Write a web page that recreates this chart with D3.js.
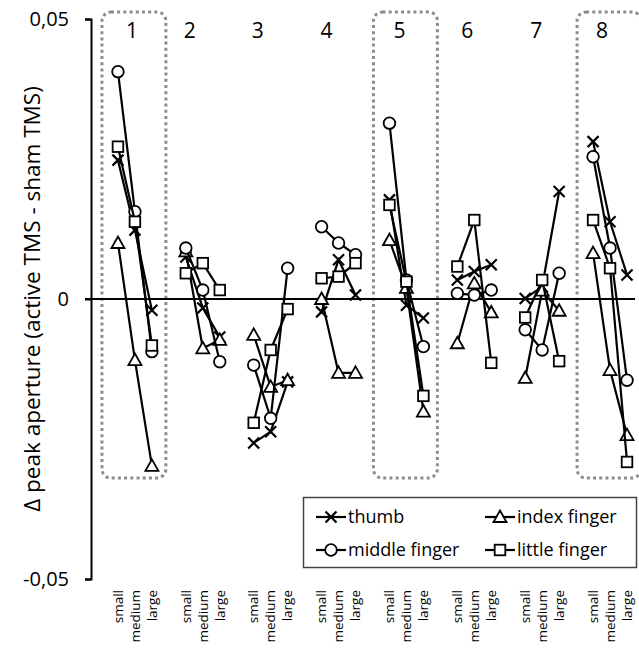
<!DOCTYPE html>
<html>
<head>
<meta charset="utf-8">
<script src="https://cdn.jsdelivr.net/npm/d3@7"></script>
<style>
  body { margin: 0; background: #fff; }
  text { font-family: "Open Sans", sans-serif; fill: #000; }
</style>
</head>
<body>
<div class="chart"></div>
<script>
const WIDTH = 639;
const HEIGHT = 648;

// data
var groups = ['1', '2', '3', '4', '5', '6', '7', '8'];
var sizes = ['small', 'medium', 'large'];
var boxedGroups = ['1', '5', '8'];
var yTicks = [0.05, 0, -0.05];

var thumb = [0.0248, 0.0123, -0.0020, 0.0075, -0.0016, -0.0068, -0.0257, -0.0237, -0.0148,
    -0.0023, 0.0070, 0.0007, 0.0177, -0.0011, -0.0034, 0.0034, 0.0049, 0.0061,
    0.0001, 0.0022, 0.0192, 0.0281, 0.0138, 0.0043];
var indexFinger = [0.0100, -0.0109, -0.0298, 0.0085, -0.0088, -0.0073, -0.0064, -0.0157, -0.0145,
    0.0000, -0.0132, -0.0132, 0.0105, 0.0020, -0.0201, -0.0079, 0.0028, -0.0024,
    -0.0141, 0.0015, -0.0021, 0.0082, -0.0127, -0.0243];
var middleFinger = [0.0406, 0.0156, -0.0094, 0.0091, 0.0016, -0.0112, -0.0118, -0.0213, 0.0055,
    0.0129, 0.0100, 0.0079, 0.0314, 0.0034, -0.0085, 0.0010, 0.0007, 0.0016,
    -0.0055, -0.0091, 0.0046, 0.0254, 0.0091, -0.0145];
var littleFinger = [0.0272, 0.0138, -0.0083, 0.0046, 0.0064, 0.0016, -0.0221, -0.0091, -0.0018,
    0.0037, 0.0040, 0.0064, 0.0168, 0.0031, -0.0173, 0.0058, 0.0141, -0.0114,
    -0.0033, 0.0034, -0.0111, 0.0141, 0.0055, -0.0291];

var series = [
    { name: 'thumb', values: thumb, marker: 'x' },
    { name: 'index finger', values: indexFinger, marker: 'triangle' },
    { name: 'middle finger', values: middleFinger, marker: 'circle' },
    { name: 'little finger', values: littleFinger, marker: 'square' }
];

// group number labels were placed by hand in the original
var numberNudge = [-3, -13, -13, -12, -7, -7, -6, -8];

// one blank slot before each group of three
var slots = d3.range(groups.length * 4);
var xScale = d3.scaleBand().domain(slots).range([92.5, 635.5]).padding(0);
var yScale = d3.scaleLinear().domain([-0.05, 0.05]).range([579, 19]);

function slotOf(g, s) { return 1 + g * 4 + s; }
function cx(g, s) { return xScale(slotOf(g, s)) + xScale.bandwidth() / 2; }

var svg = d3.select('.chart').append('svg')
    .attr('width', WIDTH)
    .attr('height', HEIGHT);

// dotted boxes
boxedGroups.forEach(function (name) {
    var g = groups.indexOf(name);
    svg.append('rect')
        .attr('x', cx(g, 0) - 16)
        .attr('y', 12)
        .attr('width', cx(g, 2) - cx(g, 0) + 30)
        .attr('height', 466)
        .attr('rx', 9)
        .attr('fill', 'none')
        .attr('stroke', '#8c8c8c')
        .attr('stroke-width', 3)
        .attr('stroke-dasharray', '3,3.2');
});

// y axis
var yAxis = d3.axisLeft(yScale)
    .tickValues(yTicks)
    .tickSize(6)
    .tickSizeOuter(6)
    .tickFormat(function (d) {
        return d === 0 ? '0' : (d < 0 ? '-' : '') + d3.format('.2f')(Math.abs(d)).replace('.', ',');
    });

var yAxisG = svg.append('g').attr('transform', 'translate(91,0)').call(yAxis);
yAxisG.select('.domain').attr('stroke', '#000').attr('stroke-width', 2);
yAxisG.selectAll('.tick line').attr('stroke', '#000').attr('stroke-width', 2);
yAxisG.selectAll('.tick text')
    .attr('x', -22)
    .style('font-size', '20px')
    .style('font-family', '"Open Sans", sans-serif');

// zero line
svg.append('line')
    .attr('x1', 85).attr('x2', 635)
    .attr('y1', yScale(0)).attr('y2', yScale(0))
    .attr('stroke', '#000').attr('stroke-width', 2);

// y title
svg.append('text')
    .attr('transform', 'translate(32,' + yScale(0) + ') rotate(-90)')
    .attr('text-anchor', 'middle')
    .attr('dy', '0.35em')
    .style('font-size', '22.5px')
    .text('\u0394 peak aperture (active TMS - sham TMS)');

// group numbers
groups.forEach(function (name, g) {
    svg.append('text')
        .attr('x', cx(g, 1) + numberNudge[g])
        .attr('y', 38)
        .attr('text-anchor', 'middle')
        .style('font-size', '21px')
        .text(name);
});

// category labels
groups.forEach(function (name, g) {
    sizes.forEach(function (size, s) {
        svg.append('text')
            .attr('transform', 'translate(' + cx(g, s) + ',590) rotate(-90)')
            .attr('text-anchor', 'end')
            .attr('dy', '0.35em')
            .style('font-size', '13.5px')
            .text(size);
    });
});

function drawMarker(g, type, x, y) {
    if (type === 'x') {
        var r = 5.5;
        g.append('path')
            .attr('d', 'M' + (x - r) + ',' + (y - r) + 'L' + (x + r) + ',' + (y + r) +
                'M' + (x - r) + ',' + (y + r) + 'L' + (x + r) + ',' + (y - r))
            .attr('stroke', '#000').attr('stroke-width', 2.2).attr('fill', 'none');
    } else if (type === 'circle') {
        g.append('circle').attr('cx', x).attr('cy', y).attr('r', 5.8)
            .attr('fill', '#fff').attr('stroke', '#000').attr('stroke-width', 1.8);
    } else if (type === 'square') {
        g.append('rect').attr('x', x - 5.3).attr('y', y - 5.3).attr('width', 10.6).attr('height', 10.6)
            .attr('fill', '#fff').attr('stroke', '#000').attr('stroke-width', 1.8);
    } else {
        g.append('path')
            .attr('d', 'M' + x + ',' + (y - 6.5) + 'L' + (x + 6.5) + ',' + (y + 5) + 'L' + (x - 6.5) + ',' + (y + 5) + 'Z')
            .attr('fill', '#fff').attr('stroke', '#000').attr('stroke-width', 1.8);
    }
}

var line = d3.line()
    .x(function (d) { return cx(d.g, d.s); })
    .y(function (d) { return yScale(d.v); });

series.forEach(function (ser) {
    var sg = svg.append('g');
    groups.forEach(function (name, g) {
        var pts = sizes.map(function (size, s) {
            return { g: g, s: s, v: ser.values[g * 3 + s] };
        });
        sg.append('path')
            .attr('d', line(pts))
            .attr('fill', 'none')
            .attr('stroke', '#000')
            .attr('stroke-width', 2.2);
        pts.forEach(function (p) {
            drawMarker(sg, ser.marker, cx(p.g, p.s), yScale(p.v));
        });
    });
});

// legend
var legend = svg.append('g');
legend.append('rect')
    .attr('x', 303.5).attr('y', 497.5)
    .attr('width', 333).attr('height', 70)
    .attr('fill', '#fff')
    .attr('stroke', '#444').attr('stroke-width', 1.5);

series.forEach(function (ser, i) {
    var lx = i % 2 === 0 ? 316 : 485;
    var ly = i < 2 ? 517 : 550;
    legend.append('line')
        .attr('x1', lx).attr('x2', lx + 30)
        .attr('y1', ly).attr('y2', ly)
        .attr('stroke', '#000').attr('stroke-width', 2.2);
    drawMarker(legend, ser.marker, lx + 15, ly);
    legend.append('text')
        .attr('x', lx + 32)
        .attr('y', ly)
        .attr('dy', '0.35em')
        .style('font-size', '18px')
        .text(ser.name);
});
</script>
</body>
</html>
